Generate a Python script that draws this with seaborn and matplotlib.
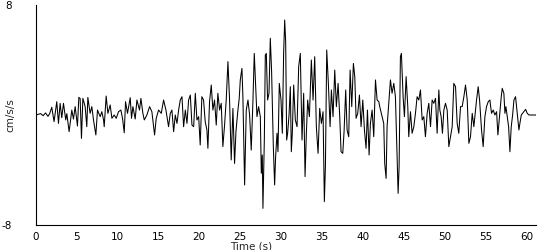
import matplotlib
matplotlib.use("Agg")
import matplotlib.pyplot as plt
import seaborn as sns
import pandas as pd

time_s = [
    0.0, 0.3, 0.6, 0.9, 1.2, 1.5, 1.7,
    1.96, 2.24, 2.57, 2.78, 2.98, 3.18, 3.39, 3.67, 3.80, 4.08, 4.41, 4.61, 4.82, 5.10,
    5.27, 5.43, 5.59, 5.76, 6.04, 6.24, 6.37, 6.65, 6.86, 7.06, 7.35, 7.55, 7.88, 8.08,
    8.29, 8.37, 8.61, 8.82, 9.10, 9.31, 9.59, 9.84, 10.12, 10.41, 10.61, 10.82, 10.98,
    11.22, 11.55, 11.71, 11.88, 12.16, 12.37, 12.69, 12.86, 13.10, 13.27, 13.59, 13.92,
    14.20, 14.53, 14.73, 15.02, 15.35, 15.63, 15.92, 16.24, 16.45, 16.65, 16.86, 17.06,
    17.27, 17.47, 17.67, 17.88, 18.08, 18.29, 18.49, 18.69, 18.90, 19.10, 19.31, 19.51,
    19.71, 19.92,
    20.11, 20.31, 20.52, 20.72, 20.93, 21.05, 21.25, 21.46, 21.66, 21.86, 22.07, 22.27,
    22.48, 22.68, 22.88, 23.09, 23.29, 23.50, 23.70, 23.90, 24.11, 24.31, 24.48, 24.68,
    24.88, 25.01, 25.21, 25.33, 25.54, 25.74, 25.95, 26.15, 26.35, 26.56, 26.72, 26.88,
    27.05, 27.25, 27.46, 27.58, 27.70, 27.78, 27.95, 28.07, 28.19, 28.35, 28.52, 28.68,
    28.84, 29.05, 29.21, 29.33, 29.50, 29.62, 29.78, 29.99, 30.15, 30.31, 30.44, 30.56,
    30.68, 30.80, 30.97, 31.13, 31.25, 31.37, 31.54, 31.74, 31.95, 32.15, 32.35, 32.56,
    32.76, 32.93, 33.09, 33.25, 33.46, 33.70, 33.91, 34.11, 34.31, 34.52, 34.72, 34.93,
    35.13, 35.29, 35.42, 35.58, 35.78, 35.99, 36.15, 36.35, 36.56, 36.76, 36.97, 37.17,
    37.33, 37.54, 37.70, 37.90, 38.07, 38.27, 38.44, 38.64, 38.84, 39.01, 39.17, 39.37,
    39.58, 39.78, 39.99, 40.19, 40.39, 40.56, 40.76, 40.92, 41.13, 41.33, 41.54, 41.74,
    41.95,
    42.06, 42.35, 42.55, 42.67, 42.84, 42.96, 43.16, 43.37, 43.57, 43.78, 43.98, 44.18,
    44.31, 44.43, 44.59, 44.71, 44.92, 45.08, 45.29, 45.49, 45.61, 45.82, 46.02, 46.23,
    46.43, 46.63, 46.84, 47.04, 47.25, 47.45, 47.65, 47.86, 48.06, 48.27, 48.47, 48.67,
    48.88, 49.08, 49.29, 49.41, 49.57, 49.73, 49.90, 50.10, 50.31, 50.51, 50.71, 50.92,
    51.12, 51.33, 51.53, 51.73, 51.94, 52.14, 52.35, 52.55, 52.76, 52.96, 53.16, 53.37,
    53.57, 53.78, 53.90, 54.10, 54.27, 54.51, 54.71, 54.92, 55.12, 55.33, 55.53, 55.73,
    55.94, 56.14, 56.35, 56.51, 56.71, 56.92, 57.04, 57.24, 57.37, 57.49, 57.65, 57.82,
    57.98, 58.14, 58.31, 58.47, 58.67, 58.88, 59.08, 59.20, 59.37, 59.53, 59.69, 59.90,
    60.10, 60.31, 60.51, 61.20,
]

accel = [
    0.0, 0.05, 0.1, -0.05, 0.15, -0.1, 0.1,
    0.56, -0.48, 0.97, -0.61, 0.85, -0.2, 0.85, -0.36, 0.1, -1.21, 0.36, -0.3, 0.61, -0.8,
    1.28, 1.2, -1.7, 1.21, 0.61, -0.85, 1.28, 0.12, 0.61, -0.36, -1.45, 0.36, -0.12, 0.24,
    -0.36, -0.85, 1.38, 0.12, 0.73, -0.24, 0.0, -0.24, 0.24, 0.36, -0.24, -1.29, 0.97,
    0.12, 1.26, -0.24, 0.61, -0.29, 1.09, 0.36, 1.21, 0.12, -0.36, 0.0, 0.61,
    0.24, -1.45, -0.24, 0.36, 0.12, 1.09, 0.36, -0.85, 0.12, 0.36, -1.21, 0.0,
    -0.61, 0.36, 1.09, 1.33, -0.85, 0.36, -0.61, 1.09, 1.45, -0.73, -0.85, 1.58,
    -0.36, -0.12,
    -2.18, 1.33, 1.09, -0.48, -1.09, -2.42, 0.97, 2.18, 0.36, 1.09, -0.73, 1.58,
    0.36, 0.85, -2.30, -0.73, 1.09, 3.88, 1.09, -3.27, 0.48, -3.52, -1.21, 0.12,
    1.21, 2.55, 3.39, 1.33, -5.09, 0.36, 1.09, 0.0, -2.55, 1.09, 4.48, 2.30,
    -0.12, 0.61, -0.12, -4.24, -2.91, -6.79, -1.82, 4.36, 4.48, 1.09, 1.58, 5.58,
    3.15, -2.30, -5.09, -3.03, -1.33, -2.67, 2.30, 1.09, -1.33, 4.48, 6.91, 5.33,
    -1.82, -1.33, 0.0, 2.06, -2.67, -1.33, 2.18, -0.36, -0.85, 3.52, 4.48, -1.82,
    1.58, -4.48, -1.33, 1.09, -0.12, 4.00, 1.09, 4.24, -0.85, -2.79, 0.48, -0.61,
    0.24, -6.30, -3.75, 4.73, 2.30, -0.85, 1.82, -0.12, 3.27, 0.61, 2.30, -0.12,
    -2.67, -2.79, -1.21, 1.82, -1.09, -1.58, 3.27, 0.61, 3.75, 2.79, -0.24, 0.12,
    1.45, -0.85, 1.09, -1.09, -2.42, 0.36, -2.91, -0.61, 0.36, -1.58, 2.55, 1.09,
    0.97,
    0.61, -0.12, -0.61, -3.52, -4.61, -0.85, 0.85, 2.55, 1.58, 2.30, 1.33, -2.79,
    -5.70, -3.75, 4.24, 4.48, 1.33, -0.12, 2.79, 0.61, -1.58, 0.24, -1.33, -0.85,
    0.12, 1.33, 1.09, 1.82, -0.36, -0.12, -1.58, 0.12, 0.85, -0.85, 1.09, 0.85,
    1.21, -1.33, 1.82, 0.36, -0.12, -1.33, 0.36, 0.85, 0.36, -2.30, -1.58, -0.85,
    2.30, 2.06, -0.61, -1.33, 0.61, 0.61, 1.33, 2.18, 1.09, -2.06, -1.58, 0.12,
    -0.85, 0.36, 1.09, 2.06, 1.09, -1.09, -2.30, -0.12, 0.61, 0.97, 1.09, 0.12,
    0.36, 0.0, 0.24, -1.45, -0.12, 1.33, 1.94, 1.58, 0.12, 0.61, -0.12, -0.85,
    -2.67, -0.85, 0.0, 1.09, 1.33, 0.12, -1.09, -0.61, 0.0, 0.12, 0.24, 0.41,
    0.12, 0.0, 0.0, 0.0,
]

x_ticks = [0, 5, 10, 15, 20, 25, 30, 35, 40, 45, 50, 55, 60]
y_ticks = [-8, 8]

df = pd.DataFrame({"t": time_s, "a": accel})

sns.set_style("white")
plt.rcParams["font.family"] = ["DejaVu Sans"]

fig = plt.figure(figsize=(5.5, 2.5), dpi=100)
ax = fig.add_axes([0.065, 0.1, 0.91, 0.88])
sns.lineplot(data=df, x="t", y="a", color="black", linewidth=0.75, ax=ax,
             sort=False, estimator=None)

ax.set_xlim(0, 61.2)
ax.set_ylim(-8, 8)
ax.set_xticks(x_ticks)
ax.set_xticklabels([str(v) for v in x_ticks], fontsize=7.5)
ax.set_yticks(y_ticks)
ax.set_yticklabels([str(v) for v in y_ticks], fontsize=7.5)
ax.tick_params(axis="x", direction="out", length=4, width=0.8, pad=1, colors="black")
ax.tick_params(axis="y", length=0, pad=17, colors="black")
ax.set_xlabel("Time (s)", fontsize=7.5)
ax.xaxis.set_label_coords(0.43, -0.075)
ax.set_ylabel("cm/s/s", fontsize=7.5)
ax.yaxis.set_label_coords(-0.04, 0.5)

for side in ["top", "right"]:
    ax.spines[side].set_visible(False)
for side in ["left", "bottom"]:
    ax.spines[side].set_color("black")
    ax.spines[side].set_linewidth(0.8)

fig.savefig("out.png", dpi=100, facecolor="white")
